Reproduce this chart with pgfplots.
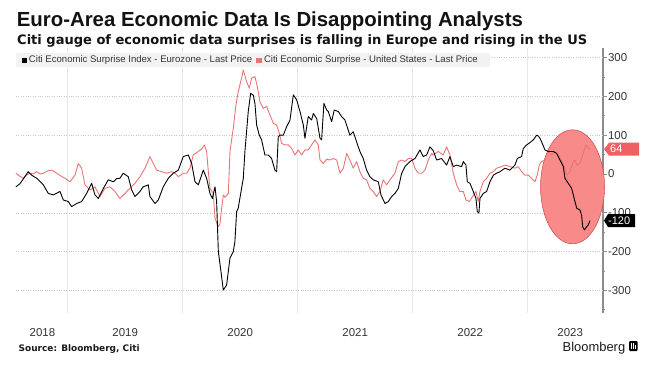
\documentclass[border=0pt]{standalone}
\usepackage{fontspec}
\setmainfont{Liberation Sans}
\newfontfamily\dvb{DejaVu Sans}
\usepackage{graphicx}
\usepackage{pgfplots}
\pgfplotsset{compat=1.18}
\definecolor{usred}{RGB}{234,116,116}
\definecolor{boxred}{RGB}{240,96,96}
\definecolor{ellfill}{RGB}{248,138,138}
\definecolor{elledge}{RGB}{200,70,70}
\definecolor{lab}{RGB}{51,51,51}
\definecolor{legbg}{RGB}{242,242,242}
\definecolor{axgray}{RGB}{140,140,140}
\definecolor{vgrid}{RGB}{232,232,232}
\definecolor{hgrid}{RGB}{200,200,200}
\begin{document}
\begin{tikzpicture}[x=1bp,y=1bp]
\useasboundingbox (0,0) rectangle (646,373);
\begin{axis}[at={(16bp,60bp)}, anchor=south west, width=587bp, height=265bp, scale only axis,
 xmin=2018.5504, xmax=2023.655, ymin=-358.2, ymax=324.7,
 axis x line*=bottom, axis y line*=right,
 x axis line style={draw=none},
 y axis line style={draw=axgray, line width=1.6bp, -},
 xtick={2018.78,2019.5,2020.5,2021.5,2022.5,2023.37},
 xticklabels={2018,2019,2020,2021,2022,2023},
 x tick style={draw=none},
 xticklabel style={font=\fontsize{11.5}{12}\selectfont, text=lab, anchor=base, yshift=-20bp},
 extra x ticks={2019,2020,2021,2022,2023}, extra x tick labels={},
 extra x tick style={grid=major, major grid style={draw=vgrid, line width=0.6bp}, tick style={draw=none}},
 ytick={-300,-200,-100,0,100,200,300},
 yticklabels={-300,-200,-100,0,100,200,300},
 minor ytick={-350,-250,-150,-50,50,150,250},
 tick align=outside, major tick length=3.5bp, minor tick length=2bp,
 y tick style={draw=axgray, line width=0.8bp},
 yticklabel style={font=\fontsize{11.5}{12}\selectfont, text=lab, anchor=west, xshift=-2bp},
 extra y ticks={-300,-200,-100,100,200,300}, extra y tick labels={},
 extra y tick style={grid=major, major grid style={draw=hgrid, dotted, line width=0.6bp}, tick style={draw=none}},
 clip=false,
]
\draw[fill=ellfill, draw=elledge, line width=0.5bp] (axis cs:2023.39,-33) ellipse [x radius=32bp, y radius=57bp];
\addplot[usred, line width=0.9bp, line join=round] coordinates {
(2018.550,2)(2018.580,-5)(2018.614,-11)(2018.640,-3)(2018.672,2)(2018.700,0)(2018.730,6)(2018.760,0)(2018.788,2)(2018.825,8)(2018.860,10)(2018.904,2)(2018.940,-5)(2018.976,-11)(2019.020,-20)(2019.063,-3)(2019.092,27)(2019.121,15)(2019.150,-28)(2019.194,-41)(2019.237,-33)(2019.281,-58)(2019.324,-37)(2019.368,-33)(2019.411,-45)(2019.454,-63)(2019.498,-50)(2019.541,-37)(2019.585,-24)(2019.628,-7)(2019.672,15)(2019.715,45)(2019.744,27)(2019.773,10)(2019.817,6)(2019.860,2)(2019.904,6)(2019.933,2)(2019.962,-7)(2020.005,2)(2020.034,2)(2020.063,15)(2020.092,49)(2020.136,58)(2020.170,66)(2020.188,75)(2020.208,58)(2020.223,6)(2020.237,-37)(2020.266,-50)(2020.281,-114)(2020.310,-136)(2020.324,-128)(2020.338,-90)(2020.353,-54)(2020.368,-60)(2020.397,-50)(2020.411,58)(2020.440,118)(2020.463,178)(2020.483,212)(2020.512,247)(2020.527,268)(2020.556,238)(2020.579,221)(2020.599,247)(2020.628,251)(2020.649,225)(2020.672,186)(2020.701,169)(2020.730,174)(2020.759,152)(2020.788,131)(2020.817,126)(2020.840,105)(2020.860,79)(2020.889,75)(2020.918,75)(2020.947,66)(2020.976,49)(2021.005,62)(2021.034,49)(2021.063,62)(2021.092,62)(2021.121,75)(2021.150,88)(2021.179,75)(2021.194,36)(2021.223,27)(2021.252,38)(2021.280,36)(2021.310,40)(2021.339,36)(2021.368,2)(2021.397,15)(2021.426,53)(2021.454,36)(2021.483,15)(2021.512,32)(2021.541,6)(2021.570,-11)(2021.599,-15)(2021.628,-37)(2021.657,-45)(2021.686,-58)(2021.715,-45)(2021.744,-15)(2021.773,-28)(2021.802,-15)(2021.846,2)(2021.875,32)(2021.904,36)(2021.933,32)(2021.962,40)(2021.991,40)(2022.020,15)(2022.049,2)(2022.078,2)(2022.107,10)(2022.136,36)(2022.165,53)(2022.179,49)(2022.222,58)(2022.266,49)(2022.295,70)(2022.324,49)(2022.353,2)(2022.382,-28)(2022.411,-45)(2022.440,-45)(2022.463,-67)(2022.492,-71)(2022.521,-58)(2022.550,-45)(2022.570,-71)(2022.585,-45)(2022.614,-20)(2022.643,-11)(2022.672,2)(2022.701,6)(2022.730,15)(2022.773,19)(2022.802,23)(2022.846,19)(2022.889,15)(2022.918,19)(2022.947,6)(2022.976,-3)(2023.005,-3)(2023.034,-11)(2023.063,-20)(2023.083,-3)(2023.101,23)(2023.121,32)(2023.150,36)(2023.179,58)(2023.208,49)(2023.237,58)(2023.266,49)(2023.295,36)(2023.324,15)(2023.339,-3)(2023.368,6)(2023.397,32)(2023.411,36)(2023.426,23)(2023.455,27)(2023.484,53)(2023.507,75)(2023.527,66)(2023.542,64)
};
\addplot[black, line width=0.9bp, line join=round] coordinates {
(2018.550,-33)(2018.585,-25)(2018.620,-10)(2018.657,6)(2018.686,-3)(2018.730,-11)(2018.788,-28)(2018.831,-50)(2018.875,-54)(2018.933,-45)(2018.962,-67)(2019.005,-71)(2019.034,-84)(2019.078,-76)(2019.121,-71)(2019.165,-50)(2019.208,-24)(2019.237,-54)(2019.266,-63)(2019.310,-37)(2019.353,-15)(2019.397,-20)(2019.425,-12)(2019.454,-11)(2019.483,2)(2019.527,-7)(2019.556,-41)(2019.585,-58)(2019.628,-45)(2019.657,-33)(2019.701,-28)(2019.715,-58)(2019.759,-76)(2019.788,-67)(2019.831,-33)(2019.875,-11)(2019.918,2)(2019.962,10)(2020.005,45)(2020.049,49)(2020.078,27)(2020.107,-20)(2020.136,-28)(2020.179,10)(2020.208,-11)(2020.237,-50)(2020.258,-63)(2020.281,-33)(2020.295,-71)(2020.310,-200)(2020.333,-252)(2020.353,-299)(2020.382,-286)(2020.411,-217)(2020.440,-200)(2020.454,-174)(2020.469,-97)(2020.483,-88)(2020.512,-37)(2020.527,-11)(2020.541,58)(2020.570,161)(2020.591,208)(2020.614,203)(2020.628,182)(2020.643,126)(2020.666,100)(2020.686,88)(2020.715,49)(2020.744,49)(2020.773,40)(2020.802,10)(2020.817,6)(2020.831,96)(2020.846,100)(2020.875,100)(2020.904,122)(2020.933,139)(2020.962,204)(2020.991,191)(2021.020,161)(2021.049,126)(2021.063,92)(2021.092,148)(2021.121,139)(2021.136,156)(2021.165,143)(2021.194,92)(2021.208,88)(2021.228,182)(2021.252,165)(2021.266,161)(2021.295,135)(2021.318,165)(2021.353,161)(2021.382,148)(2021.411,139)(2021.454,100)(2021.483,109)(2021.512,83)(2021.541,58)(2021.570,40)(2021.599,10)(2021.628,-7)(2021.657,-15)(2021.701,-20)(2021.724,-54)(2021.759,-76)(2021.788,-71)(2021.817,-58)(2021.846,-50)(2021.875,-37)(2021.904,2)(2021.933,19)(2021.976,32)(2022.020,40)(2022.063,62)(2022.092,45)(2022.121,49)(2022.150,70)(2022.179,60)(2022.208,36)(2022.251,40)(2022.295,23)(2022.324,45)(2022.353,19)(2022.382,23)(2022.425,19)(2022.440,32)(2022.463,23)(2022.475,-20)(2022.498,-24)(2022.527,-45)(2022.550,-63)(2022.562,-97)(2022.576,-101)(2022.585,-63)(2022.614,-50)(2022.643,-45)(2022.672,-20)(2022.701,-3)(2022.730,2)(2022.759,6)(2022.802,15)(2022.846,10)(2022.889,23)(2022.910,40)(2022.947,45)(2022.962,66)(2022.991,75)(2023.020,81)(2023.049,88)(2023.078,100)(2023.092,98)(2023.107,92)(2023.121,83)(2023.150,62)(2023.179,58)(2023.223,58)(2023.252,53)(2023.281,36)(2023.310,19)(2023.324,-11)(2023.353,-24)(2023.382,-37)(2023.411,-71)(2023.426,-88)(2023.455,-93)(2023.469,-106)(2023.478,-136)(2023.493,-144)(2023.513,-136)(2023.527,-131)(2023.542,-120)
};
\coordinate (v64) at (axis cs:2023.655,64);
\coordinate (v120) at (axis cs:2023.655,-120);
\end{axis}
% last value labels
\fill[boxred] ([xshift=1bp]v64) -- ++(5bp,6.5bp) -- ++(30bp,0) -- ++(0,-13bp) -- ++(-30bp,0) -- cycle;
\node[anchor=west, inner sep=0, text=white, font=\fontsize{11}{12}\selectfont] at ([xshift=7bp]v64) {64};
\fill[black] ([xshift=1bp]v120) -- ++(4bp,6.5bp) -- ++(27bp,0) -- ++(0,-13bp) -- ++(-27bp,0) -- cycle;
\node[anchor=west, inner sep=0, text=white, font=\fontsize{11}{12}\selectfont] at ([xshift=5bp]v120) {-120};
% legend
\fill[legbg] (16,306) rectangle (490,320);
\fill[black] (21.7,310.5) rectangle (26.7,315.5);
\node[anchor=west, inner sep=0, text=lab, font=\fontsize{9.6}{10}\selectfont] at (28.8,313) {Citi Economic Surprise Index - Eurozone - Last Price};
\fill[usred] (256,310.5) rectangle (261.5,315.5);
\node[anchor=west, inner sep=0, text=lab, font=\fontsize{9.6}{10}\selectfont] at (263.8,313) {Citi Economic Surprise - United States - Last Price};
% titles
\node[anchor=base west, inner sep=0, text=black!93] at (16.7,347) {\resizebox{506bp}{!}{\bfseries Euro-Area Economic Data Is Disappointing Analysts}};
\node[anchor=base west, inner sep=0, text=black!93] at (17,329) {\resizebox{570bp}{!}{\dvb\bfseries Citi gauge of economic data surprises is falling in Europe and rising in the US}};
% footer
\node[anchor=base west, inner sep=0, text=black!90] at (18.5,22) {\resizebox{121bp}{!}{\dvb\bfseries Source: Bloomberg, Citi}};
\node[anchor=base west, inner sep=0, text=black!90] at (562.5,22) {\resizebox{62.5bp}{!}{Bloomberg}};
\fill[black, rounded corners=1bp] (629,22) rectangle (637.5,32);
\fill[white] (631,24) rectangle (632,30.5);
\fill[white] (633,24) rectangle (634,30.5);
\fill[white] (635,24) rectangle (636,28);
\end{tikzpicture}
\end{document}
